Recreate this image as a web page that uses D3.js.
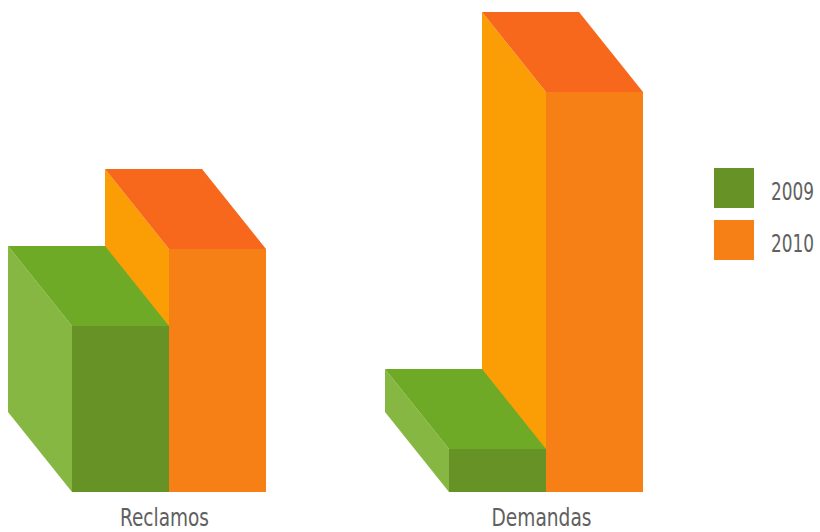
<!DOCTYPE html>
<html>
<head>
<meta charset="utf-8">
<script src="https://cdn.jsdelivr.net/npm/d3@7/dist/d3.min.js"></script>
<style>
  html, body { margin: 0; padding: 0; background: #ffffff; }
  svg { display: block; }
  text { font-family: "DejaVu Sans Condensed", "Liberation Sans Narrow", "Open Sans", sans-serif; fill: #606060; }
</style>
</head>
<body>
<svg id="chart" width="820" height="532"></svg>
<script>
// ---- data ----
const categories = ["Reclamos", "Demandas"];
const seriesNames = ["2009", "2010"];
const values2009 = [166, 43];
const values2010 = [243, 400];
const legendLabels = ["2009", "2010"];

// ---- styles ----
const colors = {
  "2009": { front: "#679225", side: "#87b743", top: "#6eaa26" },
  "2010": { front: "#f78016", side: "#fb9e05", top: "#f7681c" }
};
const depth = { dx: -64, dy: -80 };

const svg = d3.select("#chart");

const y = d3.scaleLinear().domain([0, 400]).range([492, 92]);
const x0 = d3.scaleBand().domain(categories).range([72, 643]).paddingInner(0.4854).paddingOuter(0);
const x1 = d3.scaleBand().domain(seriesNames).range([0, x0.bandwidth()]).padding(0);

const data = categories.map((c, i) => ({
  cat: c,
  bars: [
    { s: "2009", v: values2009[i] },
    { s: "2010", v: values2010[i] }
  ]
}));

const groups = svg.selectAll("g.group").data(data).enter().append("g").attr("class", "group");

groups.each(function(d) {
  const g = d3.select(this);
  // draw right bar first so the left bar occludes it
  const bars = d.bars.slice().reverse();
  bars.forEach(b => {
    const xl = x0(d.cat) + x1(b.s);
    const xr = xl + x1.bandwidth();
    const yt = y(b.v);
    const yb = y(0);
    const c = colors[b.s];
    const dx = depth.dx, dy = depth.dy;
    g.append("polygon")
      .attr("points", [[xl, yt], [xl + dx, yt + dy], [xl + dx, yb + dy], [xl, yb]].map(p => p.join(",")).join(" "))
      .attr("fill", c.side);
    g.append("polygon")
      .attr("points", [[xl, yt], [xr, yt], [xr + dx, yt + dy], [xl + dx, yt + dy]].map(p => p.join(",")).join(" "))
      .attr("fill", c.top);
    g.append("rect")
      .attr("x", xl).attr("y", yt)
      .attr("width", x1.bandwidth()).attr("height", yb - yt)
      .attr("fill", c.front);
  });
});

// category labels (condensed text, stretched vertically)
const labelWidths = { "Reclamos": 89, "Demandas": 100 };
svg.selectAll("g.cat").data(categories).enter().append("g")
  .attr("class", "cat")
  .attr("transform", d => `translate(${x0(d) + x0.bandwidth() / 2 - 4.5},525.5) scale(1,1.22)`)
  .append("text")
  .attr("x", 0).attr("y", 0)
  .attr("text-anchor", "middle")
  .attr("font-size", 20.4)
  .attr("textLength", d => labelWidths[d])
  .attr("lengthAdjust", "spacingAndGlyphs")
  .text(d => d);

// legend
const legend = svg.append("g").attr("transform", "translate(714,168)");
const li = legend.selectAll("g").data(legendLabels).enter().append("g")
  .attr("transform", (d, i) => `translate(0,${i * 52})`);
li.append("rect").attr("width", 40).attr("height", 40).attr("fill", d => colors[d].front);
li.append("g")
  .attr("transform", "translate(57,31.5) scale(1,1.33)")
  .append("text")
  .attr("x", 0).attr("y", 0)
  .attr("font-size", 18.8)
  .attr("textLength", 43)
  .attr("lengthAdjust", "spacingAndGlyphs")
  .text(d => d);
</script>
</body>
</html>
